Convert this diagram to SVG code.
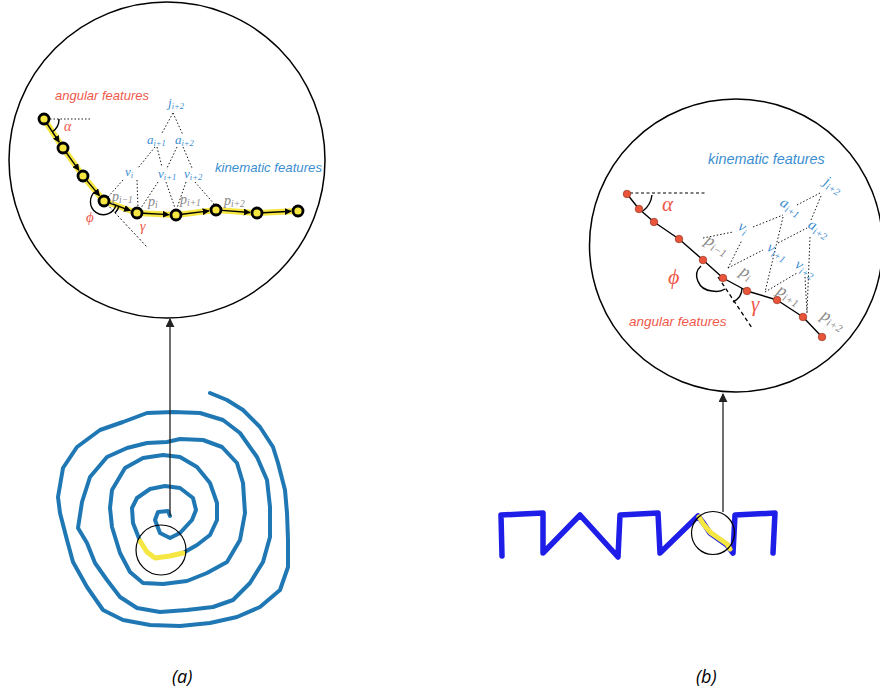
<svg xmlns="http://www.w3.org/2000/svg" width="880" height="695" viewBox="0 0 880 695">
<defs>
<marker id="ah" viewBox="0 0 10 10" refX="9" refY="5" markerWidth="7" markerHeight="7" markerUnits="userSpaceOnUse" orient="auto"><path d="M0,0 L10,5 L0,10 z" fill="#000"/></marker>
<marker id="big" viewBox="0 0 10 10" refX="9" refY="5" markerWidth="9" markerHeight="9" markerUnits="userSpaceOnUse" orient="auto"><path d="M0,0 L10,5 L0,10 z" fill="#222"/></marker>
</defs>
<style>
.circ{fill:none;stroke:#000;stroke-width:1.5}
.small{fill:none;stroke:#000;stroke-width:1.2}
.dot{fill:none;stroke:#000;stroke-width:0.9;stroke-dasharray:1.5 2}
.dash{fill:none;stroke:#000;stroke-width:1.3;stroke-dasharray:4 3}
.seg{fill:none;stroke:#000;stroke-width:1.4}
.hl{fill:none;stroke:#f5e642;stroke-width:6;stroke-linejoin:round;stroke-linecap:round}
.ypt{fill:#f5e642;stroke:#000;stroke-width:2.8}
.rpt{fill:#e8553a;stroke:#8a2a1a;stroke-width:0.6}
.spiral{fill:none;stroke:#1f78b4;stroke-width:4;stroke-linejoin:round;stroke-linecap:round}
.wave{fill:none;stroke:#1e1ee8;stroke-width:5.5;stroke-linejoin:round;stroke-linecap:round}
.yel{fill:none;stroke:#f5e642;stroke-width:5;stroke-linejoin:round;stroke-linecap:round}
.red{fill:#f0584a;font-family:"Liberation Sans",Arial,sans-serif;font-style:italic}
.blu{fill:#3b8ed0;font-family:"Liberation Sans",Arial,sans-serif;font-style:italic}
.mr{fill:#f0584a;font-family:"Liberation Serif","Times New Roman",serif;font-style:italic}
.mb{fill:#3b8ed0;font-family:"Liberation Serif","Times New Roman",serif;font-style:italic}
.mg{fill:#888;font-family:"Liberation Serif","Times New Roman",serif;font-style:italic}
.cap{fill:#000;font-family:"Open Sans","Noto Sans",sans-serif;font-style:italic;font-size:18px}
.conn{fill:none;stroke:#222;stroke-width:1.3}
</style>

<g id="panel-a-drawing">
<polyline class="spiral" points="170,516 168,511 158,512 155,520 160,533 170,538 180,533 192,520 196,510 193,498 180,488 165,486 150,489 137,498 132,508 133,523 140,541"/>
<polyline class="spiral" points="183,553 197,545 210,535 217,520 217,503 210,483 197,467 180,457 163,455 143,458 125,468 112,490 110,508 112,527 120,553 130,572 143,583 163,584 187,581 207,573 227,562 240,540 245,513 243,483 237,463 222,447 203,440 180,439 167,442 147,443 127,448 107,457 90,477 82,502 78,528 87,543 95,563 107,580 120,597 137,608 160,612 187,610 213,607 233,600 250,583 263,562 270,537 270,507 267,480 257,457 240,433 223,420 200,413 173,412 147,413 123,422 100,430 77,447 63,468 58,497 60,513 67,540 73,562 87,587 103,610 123,620 150,625 180,626 210,623 237,617 260,607 280,590 288,567 288,540 287,513 285,490 278,463 273,447 260,427 243,410 227,400 210,393"/>
<polyline class="yel" points="140,541 147,552 155,558 170,556 183,553"/>
<circle class="small" cx="161" cy="550" r="25"/>
</g>

<g id="panel-b-drawing">
<polyline class="wave" points="502,556 501,515 522,514 543,513 543,553 580,515 618,557 620,515 658,513 660,553 698,516 704,524 710,533 727,545 733,553 735,515 775,513 773,553"/>
<polyline class="yel" points="699,517 704,525 711,533 727,544 730,549"/>
<circle class="small" cx="713" cy="533" r="21.5"/>
</g>

<g id="connectors">
<line class="conn" x1="170" y1="516" x2="170" y2="319" marker-end="url(#big)"/>
<line class="conn" x1="723" y1="512" x2="723" y2="394" marker-end="url(#big)"/>
</g>

<g id="zoom-a">
<circle class="circ" cx="167" cy="160" r="158"/>
<text class="red" x="55" y="100" font-size="13">angular features</text>
<text class="blu" x="215" y="172" font-size="13.2">kinematic features</text>
<line class="dot" x1="173" y1="113" x2="162" y2="133"/>
<line class="dot" x1="173" y1="113" x2="183" y2="135"/>
<line class="dot" x1="155" y1="147" x2="138" y2="168"/>
<line class="dot" x1="157" y1="147" x2="162" y2="167"/>
<line class="dot" x1="177" y1="147" x2="167" y2="168"/>
<line class="dot" x1="183" y1="147" x2="192" y2="168"/>
<line class="dot" x1="123" y1="180" x2="108" y2="197"/>
<line class="dot" x1="137" y1="180" x2="138" y2="208"/>
<line class="dot" x1="158" y1="182" x2="141" y2="208"/>
<line class="dot" x1="166" y1="182" x2="175" y2="208"/>
<line class="dot" x1="186" y1="182" x2="177" y2="208"/>
<line class="dot" x1="195" y1="182" x2="215" y2="205"/>
<line class="dot" x1="50" y1="119" x2="92" y2="119"/>
<line class="dot" x1="104" y1="201" x2="147" y2="247" style="stroke-dasharray:2 2"/>
<polyline class="hl" points="44,119 63,148 83,176 104,201 137,213 176,215 216,210 257,213 298,211"/>
<line class="seg" x1="47.3" y1="124" x2="59.2" y2="142.1" marker-end="url(#ah)"/>
<line class="seg" x1="66.5" y1="152.9" x2="78.9" y2="170.3" marker-end="url(#ah)"/>
<line class="seg" x1="86.9" y1="180.6" x2="99.5" y2="195.6" marker-end="url(#ah)"/>
<line class="seg" x1="109.6" y1="203" x2="130.4" y2="210.6" marker-end="url(#ah)"/>
<line class="seg" x1="143" y1="213.3" x2="169" y2="214.6" marker-end="url(#ah)"/>
<line class="seg" x1="182" y1="214.3" x2="209" y2="210.9" marker-end="url(#ah)"/>
<line class="seg" x1="222" y1="210.4" x2="250" y2="212.5" marker-end="url(#ah)"/>
<line class="seg" x1="263" y1="212.7" x2="291" y2="211.3" marker-end="url(#ah)"/>
<path class="seg" d="M59,119 A15,15 0 0 1 52,132" stroke-width="1"/>
<path class="seg" d="M96,191 A13,13 0 1 0 116,205" stroke-width="1"/>
<path class="seg" d="M119,206 A15,15 0 0 1 115,213" stroke-width="1"/>
<circle class="ypt" cx="44" cy="119" r="5"/>
<circle class="ypt" cx="63" cy="148" r="5"/>
<circle class="ypt" cx="83" cy="176" r="5"/>
<circle class="ypt" cx="104" cy="201" r="5"/>
<circle class="ypt" cx="137" cy="213" r="5"/>
<circle class="ypt" cx="176" cy="215" r="5"/>
<circle class="ypt" cx="216" cy="210" r="5"/>
<circle class="ypt" cx="257" cy="213" r="5"/>
<circle class="ypt" cx="298" cy="211" r="5"/>
<text class="mr" x="64" y="131" font-size="14">α</text>
<text class="mr" x="86" y="222" font-size="15">ϕ</text>
<text class="mr" x="140" y="231" font-size="14">γ</text>
<text class="mg" x="112" y="201" font-size="14">p<tspan font-size="9.5" dy="2">i−1</tspan></text>
<text class="mg" x="148" y="206" font-size="14">p<tspan font-size="9.5" dy="2">i</tspan></text>
<text class="mg" x="180" y="204" font-size="14">p<tspan font-size="9.5" dy="2">i+1</tspan></text>
<text class="mg" x="224" y="205" font-size="14">p<tspan font-size="9.5" dy="2">i+2</tspan></text>
<text class="mb" x="125" y="176" font-size="13">v<tspan font-size="8.5" dy="2">i</tspan></text>
<text class="mb" x="158" y="178" font-size="13">v<tspan font-size="8.5" dy="2">i+1</tspan></text>
<text class="mb" x="184" y="178" font-size="13">v<tspan font-size="8.5" dy="2">i+2</tspan></text>
<text class="mb" x="147" y="144" font-size="13">a<tspan font-size="8.5" dy="2">i+1</tspan></text>
<text class="mb" x="175" y="144" font-size="13">a<tspan font-size="8.5" dy="2">i+2</tspan></text>
<text class="mb" x="168" y="107" font-size="13">j<tspan font-size="8.5" dy="2">i+2</tspan></text>
</g>

<g id="zoom-b">
<circle class="circ" cx="736" cy="245.5" r="146.5"/>
<text class="blu" x="708" y="164" font-size="14.4">kinematic features</text>
<text class="red" x="629" y="326" font-size="13.5">angular features</text>
<line class="dot" x1="703" y1="238" x2="733" y2="232"/>
<line class="dot" x1="753" y1="227" x2="783" y2="215"/>
<line class="dot" x1="797" y1="205" x2="820" y2="193"/>
<line class="dot" x1="821" y1="196" x2="811" y2="220"/>
<line class="dot" x1="728" y1="268" x2="742" y2="240"/>
<line class="dot" x1="728" y1="268" x2="763" y2="250"/>
<line class="dot" x1="783" y1="217" x2="765" y2="292"/>
<line class="dot" x1="765" y1="292" x2="797" y2="273"/>
<line class="dot" x1="778" y1="243" x2="807" y2="228"/>
<line class="dot" x1="810" y1="237" x2="807" y2="313"/>
<line class="dot" x1="805" y1="277" x2="807" y2="313"/>
<line class="dot" x1="630" y1="193" x2="705" y2="193" style="stroke-width:1.2;stroke-dasharray:3 2.5"/>
<line class="dash" x1="718" y1="277" x2="752" y2="328"/>
<polyline class="seg" points="627,194 639,209 654,222 679,239 703,260 723,278 747,291 777,300 803,317 822,337" stroke-linejoin="round" stroke-width="1.6"/>
<path class="seg" d="M652,195 A24,24 0 0 1 643,211" stroke-width="1.5"/>
<path class="seg" d="M701,266 C692,274 698,290 712,291 C717,292 722,291 725,289" stroke-width="1.5"/>
<path class="seg" d="M742,288 C742,294 739,299 733,302" stroke-width="1.5"/>
<circle class="rpt" cx="627" cy="194" r="3.8"/>
<circle class="rpt" cx="639" cy="209" r="3.8"/>
<circle class="rpt" cx="654" cy="222" r="3.8"/>
<circle class="rpt" cx="679" cy="239" r="3.8"/>
<circle class="rpt" cx="703" cy="260" r="3.8"/>
<circle class="rpt" cx="723" cy="278" r="3.8"/>
<circle class="rpt" cx="747" cy="291" r="3.8"/>
<circle class="rpt" cx="777" cy="300" r="3.8"/>
<circle class="rpt" cx="803" cy="317" r="3.8"/>
<circle class="rpt" cx="822" cy="337" r="3.8"/>
<text class="mr" x="662" y="211" font-size="21">α</text>
<text class="mr" x="668" y="284" font-size="22">ϕ</text>
<text class="mr" x="751" y="311" font-size="21">γ</text>
<text class="mg" font-size="17" transform="translate(704,243) rotate(30)">p<tspan font-size="11" dy="3">i−1</tspan></text>
<text class="mg" font-size="17" transform="translate(739,274) rotate(30)">p<tspan font-size="11" dy="3">i</tspan></text>
<text class="mg" font-size="17" transform="translate(776,293) rotate(30)">p<tspan font-size="11" dy="3">i+1</tspan></text>
<text class="mg" font-size="17" transform="translate(820,318) rotate(30)">p<tspan font-size="11" dy="3">i+2</tspan></text>
<text class="mb" font-size="15" transform="translate(737,229) rotate(30)">v<tspan font-size="10" dy="3">i</tspan></text>
<text class="mb" font-size="15" transform="translate(766,250) rotate(30)">v<tspan font-size="10" dy="3">i+1</tspan></text>
<text class="mb" font-size="15" transform="translate(794,267) rotate(30)">v<tspan font-size="10" dy="3">i+2</tspan></text>
<text class="mb" font-size="15" transform="translate(779,205) rotate(30)">a<tspan font-size="10" dy="3">i+1</tspan></text>
<text class="mb" font-size="15" transform="translate(807,227) rotate(30)">a<tspan font-size="10" dy="3">i+2</tspan></text>
<text class="mb" font-size="15" transform="translate(823,184) rotate(30)">j<tspan font-size="10" dy="3">i+2</tspan></text>
</g>

<g id="captions">
<text class="cap" x="172" y="683">(a)</text>
<text class="cap" x="696" y="683">(b)</text>
</g>
</svg>
